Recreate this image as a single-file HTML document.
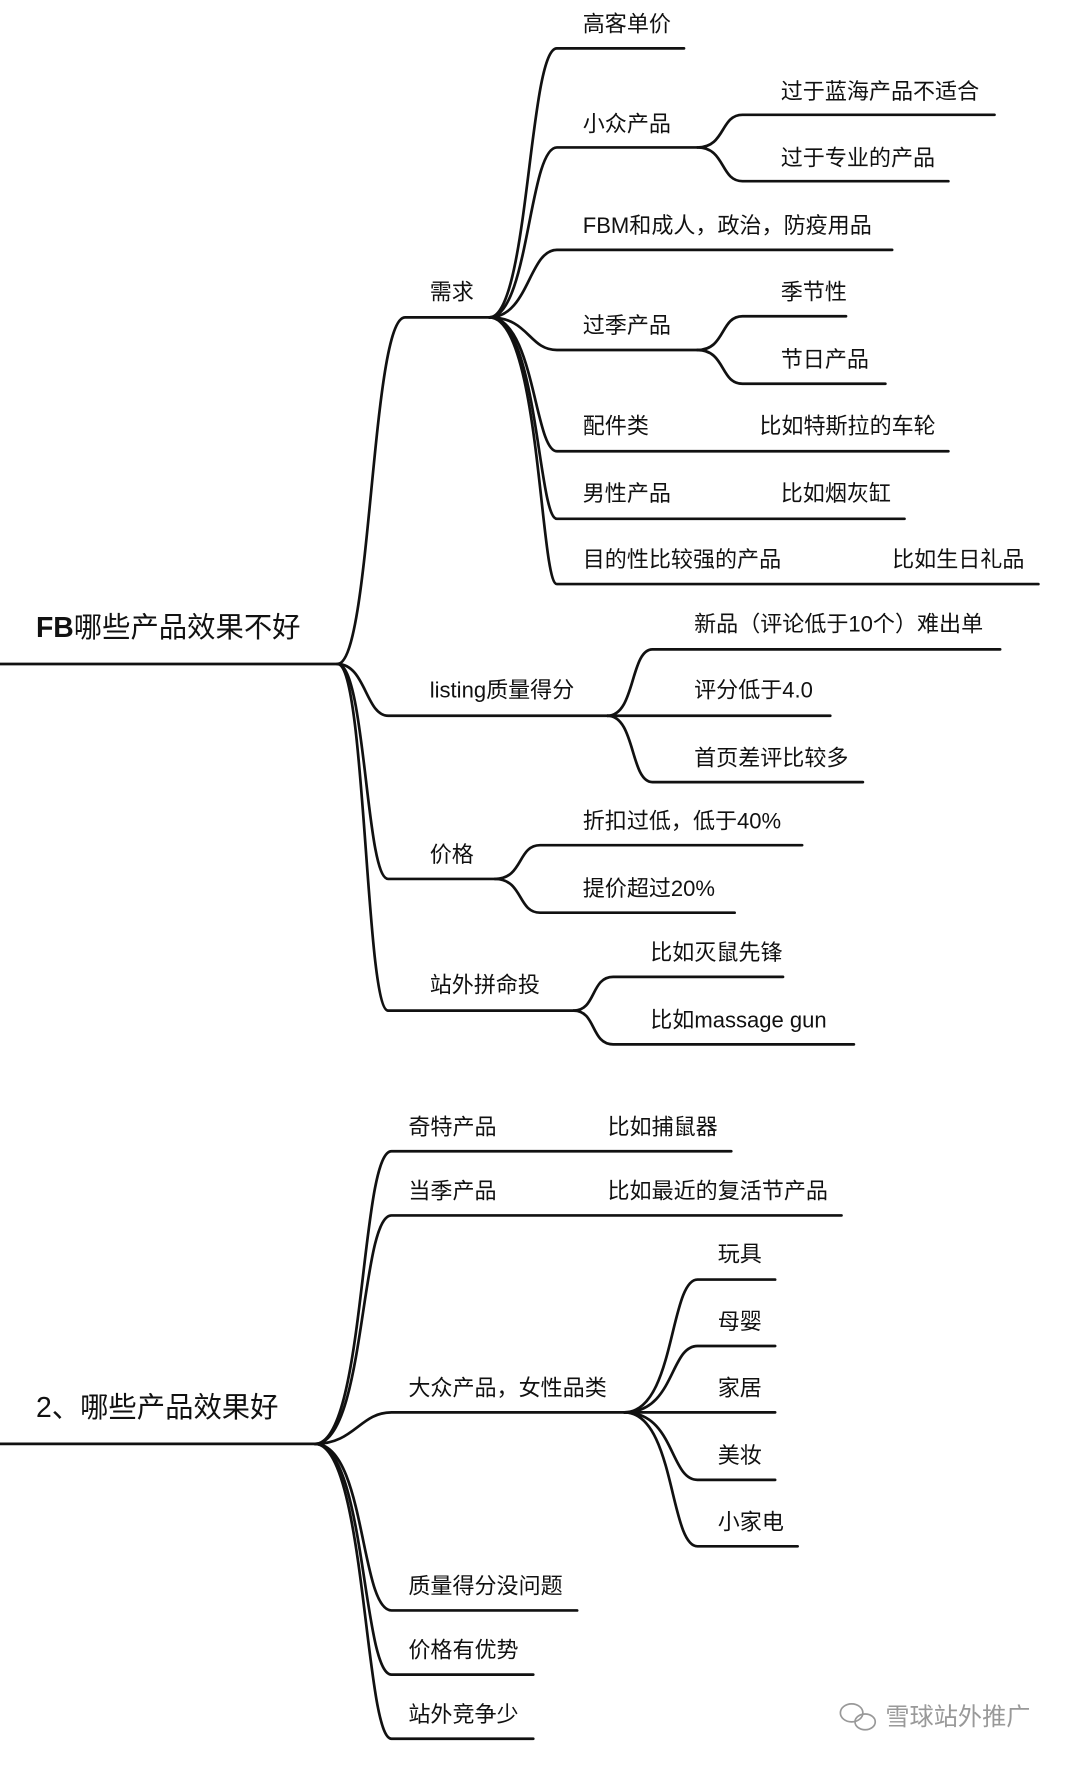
<!DOCTYPE html>
<html><head><meta charset="utf-8"><style>
html,body{margin:0;padding:0;background:#fff;}
svg{display:block}
text{font-family:"Liberation Sans","Noto Sans CJK SC",sans-serif;fill:#111;font-size:19.6px}
path,line{stroke:#111;stroke-width:2.4;fill:none;stroke-linecap:round}
</style></head><body>
<svg width="1080" height="1768" viewBox="0 0 960 1571" preserveAspectRatio="none" xmlns="http://www.w3.org/2000/svg">
<g id="lines">
<line x1="0" y1="590" x2="300" y2="590"/>
<path d="M300 590 C330 590 330 282 360 282 L435 282"/>
<path d="M300 590 C325 590 325 636 345 636 L540 636"/>
<path d="M300 590 C325 590 325 781 345 781 L440 781"/>
<path d="M300 590 C325 590 325 898 345 898 L510 898"/>
<path d="M435 282 C470 282 470 43 495 43 L608 43"/>
<path d="M435 282 C470 282 470 131 495 131 L620 131"/>
<path d="M620 131 C645 131 640 102 660 102 L884 102"/>
<path d="M620 131 C645 131 640 161 660 161 L843 161"/>
<path d="M435 282 C470 282 470 222 495 222 L793 222"/>
<path d="M435 282 C470 282 470 311 495 311 L620 311"/>
<path d="M620 311 C645 311 640 281 660 281 L752 281"/>
<path d="M620 311 C645 311 640 341 660 341 L787 341"/>
<path d="M435 282 C475 282 475 401 495 401 L843 401"/>
<path d="M435 282 C478 282 478 461 495 461 L804 461"/>
<path d="M435 282 C480 282 480 519 495 519 L923 519"/>
<path d="M540 636 C565 636 560 577 580 577 L889 577"/>
<path d="M540 636 L738 636"/>
<path d="M540 636 C565 636 560 695 580 695 L767 695"/>
<path d="M440 781 C465 781 460 751 480 751 L713 751"/>
<path d="M440 781 C465 781 460 811 480 811 L653 811"/>
<path d="M510 898 C530 898 525 868 545 868 L696 868"/>
<path d="M510 898 C530 898 525 928 545 928 L759 928"/>
<line x1="0" y1="1283" x2="280" y2="1283"/>
<path d="M280 1283 C325 1283 320 1023 348 1023 L650 1023"/>
<path d="M280 1283 C325 1283 320 1080 348 1080 L748 1080"/>
<path d="M280 1283 C315 1283 320 1255 348 1255 L555 1255"/>
<path d="M280 1283 C325 1283 320 1431 348 1431 L513 1431"/>
<path d="M280 1283 C325 1283 322 1488 348 1488 L474 1488"/>
<path d="M280 1283 C325 1283 324 1545 348 1545 L474 1545"/>
<path d="M555 1255 C600 1255 595 1137 620 1137 L689 1137"/>
<path d="M555 1255 C600 1255 595 1196 620 1196 L689 1196"/>
<path d="M555 1255 L689 1255"/>
<path d="M555 1255 C600 1255 595 1315 620 1315 L689 1315"/>
<path d="M555 1255 C600 1255 595 1374 620 1374 L709 1374"/>
</g>
<g>
<text x="32" y="566" style="font-size:25.2px"><tspan font-weight="bold">FB</tspan>哪些产品效果不好</text>
<text x="382" y="266">需求</text>
<text x="382" y="620">listing质量得分</text>
<text x="382" y="766">价格</text>
<text x="382" y="882">站外拼命投</text>
<text x="518" y="28">高客单价</text>
<text x="518" y="117">小众产品</text>
<text x="694" y="88">过于蓝海产品不适合</text>
<text x="694" y="147">过于专业的产品</text>
<text x="518" y="207">FBM和成人，政治，防疫用品</text>
<text x="518" y="296">过季产品</text>
<text x="694" y="266">季节性</text>
<text x="694" y="326">节日产品</text>
<text x="518" y="385">配件类</text>
<text x="675" y="385">比如特斯拉的车轮</text>
<text x="518" y="445">男性产品</text>
<text x="694" y="445">比如烟灰缸</text>
<text x="518" y="504">目的性比较强的产品</text>
<text x="793" y="504">比如生日礼品</text>
<text x="617" y="561">新品（评论低于10个）难出单</text>
<text x="617" y="620">评分低于4.0</text>
<text x="617" y="680">首页差评比较多</text>
<text x="518" y="736">折扣过低，低于40%</text>
<text x="518" y="796">提价超过20%</text>
<text x="578" y="853">比如灭鼠先锋</text>
<text x="578" y="913">比如massage gun</text>
<text x="32" y="1259" style="font-size:25.2px">2、哪些产品效果好</text>
<text x="363" y="1008">奇特产品</text>
<text x="540" y="1008">比如捕鼠器</text>
<text x="363" y="1065">当季产品</text>
<text x="540" y="1065">比如最近的复活节产品</text>
<text x="363" y="1240">大众产品，女性品类</text>
<text x="638" y="1121">玩具</text>
<text x="638" y="1181">母婴</text>
<text x="638" y="1240">家居</text>
<text x="638" y="1300">美妆</text>
<text x="638" y="1359">小家电</text>
<text x="363" y="1416">质量得分没问题</text>
<text x="363" y="1473">价格有优势</text>
<text x="363" y="1530">站外竞争少</text>
<g style="stroke:#999;stroke-width:1.5;fill:none">
<ellipse cx="757" cy="1522" rx="10" ry="8"/>
<ellipse cx="769" cy="1530" rx="9" ry="7"/>
</g>
<text x="787" y="1533" style="fill:#999;font-size:21.5px">雪球站外推广</text>
</g>
</svg>
</body></html>
